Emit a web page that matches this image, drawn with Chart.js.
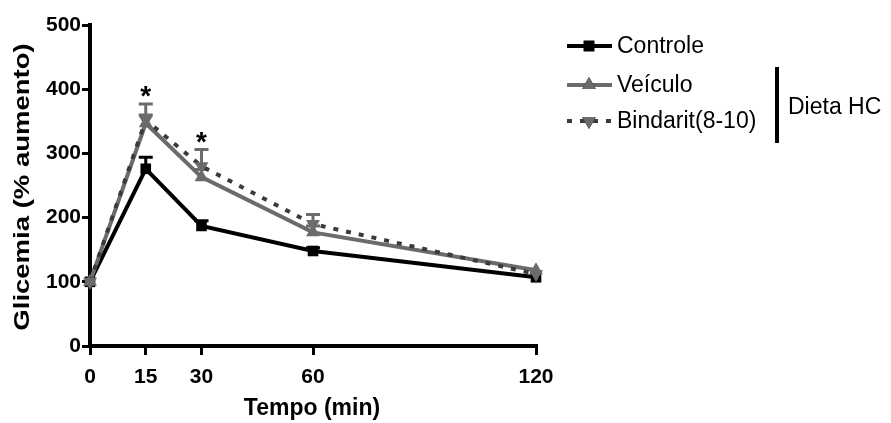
<!DOCTYPE html>
<html>
<head>
<meta charset="utf-8">
<script src="https://cdn.jsdelivr.net/npm/chart.js@4.4.1/dist/chart.umd.min.js"></script>
<style>
  html, body { margin: 0; padding: 0; background: #fff; }
  #wrap { width: 891px; height: 423px; }
</style>
</head>
<body>
<div id="wrap"><canvas id="glicChart" width="891" height="423"></canvas></div>
<script>
// tempo (min) e glicemia (% aumento)
const tempos = [0, 15, 30, 60, 120];
const xTicks = [0, 15, 30, 60, 120];
const yTicks = [0, 100, 200, 300, 400, 500];

const controle = [100, 276, 187, 148, 107];
const controleErr = [0, 18, 8, 5, 0];
const veiculo = [100, 347, 263, 177, 118];
const veiculoErr = [0, 30, 12, 10, 0];
const bindarit = [100, 352, 280, 190, 112];
const bindaritErr = [0, 8, 26, 15, 0];

// pontos com diferença significativa (*)
const starTimes = [15, 30];

const seriesNames = ['Controle', 'Veículo', 'Bindarit(8-10)'];
const grupoLabel = 'Dieta HC';

const GRAY = '#6b6b6b';
const DARK = '#3a3a3a';
const errs = [controleErr, veiculoErr, bindaritErr];

const toPts = arr => arr.map((v, i) => ({ x: tempos[i], y: v }));

// barras de erro (só para cima)
const errorBars = {
    id: 'errorBars',
    beforeDatasetsDraw(chart) {
        const { ctx, scales: { x, y } } = chart;
        ctx.save();
        chart.data.datasets.forEach((ds, di) => {
            const e = errs[di];
            ctx.strokeStyle = di === 0 ? '#000' : GRAY;
            ctx.lineWidth = 3;
            ds.data.forEach((p, i) => {
                if (!e[i]) return;
                const px = x.getPixelForValue(p.x);
                const y0 = y.getPixelForValue(p.y);
                const y1 = y.getPixelForValue(p.y + e[i]);
                ctx.beginPath();
                ctx.moveTo(px, y0);
                ctx.lineTo(px, y1);
                ctx.moveTo(px - 7, y1);
                ctx.lineTo(px + 7, y1);
                ctx.stroke();
            });
        });
        ctx.restore();
    }
};

// asteriscos, títulos dos eixos e legenda
const extras = {
    id: 'extras',
    afterDraw(chart) {
        const { ctx, scales: { x, y } } = chart;
        ctx.save();
        ctx.fillStyle = '#000';

        // asteriscos acima da maior barra de erro
        ctx.font = 'bold 28px "Liberation Sans", Arial, sans-serif';
        ctx.textAlign = 'center';
        ctx.textBaseline = 'alphabetic';
        starTimes.forEach(t => {
            const i = tempos.indexOf(t);
            let top = 0;
            [controle, veiculo, bindarit].forEach((s, k) => { top = Math.max(top, s[i] + errs[k][i]); });
            ctx.fillText('*', x.getPixelForValue(t), y.getPixelForValue(top) + 1);
        });

        // título eixo x
        ctx.font = 'bold 23px "Liberation Sans", Arial, sans-serif';
        ctx.textBaseline = 'middle';
        ctx.fillText('Tempo (min)', 312, 409);

        // título eixo y (esticado na vertical)
        ctx.save();
        ctx.translate(23, 187);
        ctx.rotate(-Math.PI / 2);
        ctx.scale(1.25, 1);
        ctx.font = 'bold 22px "Liberation Sans", Arial, sans-serif';
        ctx.fillText('Glicemia (% aumento)', 0, 0);
        ctx.restore();

        // legenda
        const rows = [46, 85, 121];
        ctx.font = '23px "Liberation Sans", Arial, sans-serif';
        ctx.textAlign = 'left';
        chart.data.datasets.forEach((ds, di) => {
            const ly = rows[di];
            ctx.save();
            ctx.strokeStyle = ds.borderColor;
            ctx.lineWidth = 4;
            ctx.setLineDash(ds.borderDash || []);
            ctx.beginPath();
            ctx.moveTo(567, ly);
            ctx.lineTo(612, ly);
            ctx.stroke();
            ctx.restore();
            Chart.helpers.drawPoint(ctx, {
                pointStyle: ds.pointStyle,
                rotation: ds.pointRotation || 0,
                radius: ds.pointRadius
            }, 589, ly);
            ctx.fillStyle = ds.pointBackgroundColor;
            ctx.fill();
            ctx.fillStyle = '#000';
            ctx.fillText(seriesNames[di], 617, ly + 1);
        });

        ctx.fillRect(775, 67, 4, 76);
        ctx.fillText(grupoLabel, 788, 108);
        ctx.restore();
    }
};

const ctx = document.getElementById('glicChart').getContext('2d');
const glicChart = new Chart(ctx, {
    type: 'line',
    data: {
        datasets: [{
            label: seriesNames[0],
            data: toPts(controle),
            borderColor: '#000',
            borderWidth: 4,
            pointStyle: 'rect',
            pointRadius: 7.5,
            pointBackgroundColor: '#000',
            pointBorderColor: '#000',
            pointBorderWidth: 0,
            order: 3
        }, {
            label: seriesNames[1],
            data: toPts(veiculo),
            borderColor: GRAY,
            borderWidth: 4,
            pointStyle: 'triangle',
            pointRadius: 8,
            pointBackgroundColor: GRAY,
            pointBorderColor: GRAY,
            pointBorderWidth: 0,
            order: 2
        }, {
            label: seriesNames[2],
            data: toPts(bindarit),
            borderColor: DARK,
            borderWidth: 4,
            borderDash: [5, 8],
            pointStyle: 'triangle',
            pointRotation: 180,
            pointRadius: 8,
            pointBackgroundColor: GRAY,
            pointBorderColor: GRAY,
            pointBorderWidth: 0,
            order: 1
        }]
    },
    options: {
        responsive: false,
        animation: false,
        clip: false,
        layout: { padding: { top: 25, right: 355, left: 0, bottom: 0 } },
        plugins: { legend: { display: false }, tooltip: { enabled: false } },
        scales: {
            x: {
                type: 'linear',
                min: 0,
                max: 120,
                afterBuildTicks: s => { s.ticks = xTicks.map(v => ({ value: v })); },
                afterFit: s => { s.height = 77; },
                border: { color: '#000', width: 4 },
                grid: { drawOnChartArea: false, color: '#000', lineWidth: 3, tickLength: 9 },
                ticks: {
                    color: '#000',
                    padding: 10,
                    maxRotation: 0,
                    font: { family: '"Liberation Sans", Arial, sans-serif', size: 21, weight: 'bold' }
                }
            },
            y: {
                min: 0,
                max: 500,
                afterBuildTicks: s => { s.ticks = yTicks.map(v => ({ value: v })); },
                afterFit: s => { s.width = 90; },
                border: { color: '#000', width: 4 },
                grid: { drawOnChartArea: false, color: '#000', lineWidth: 3, tickLength: 8 },
                ticks: {
                    color: '#000',
                    padding: 1,
                    font: { family: '"Liberation Sans", Arial, sans-serif', size: 21, weight: 'bold' }
                }
            }
        }
    },
    plugins: [errorBars, extras]
});
</script>
</body>
</html>
